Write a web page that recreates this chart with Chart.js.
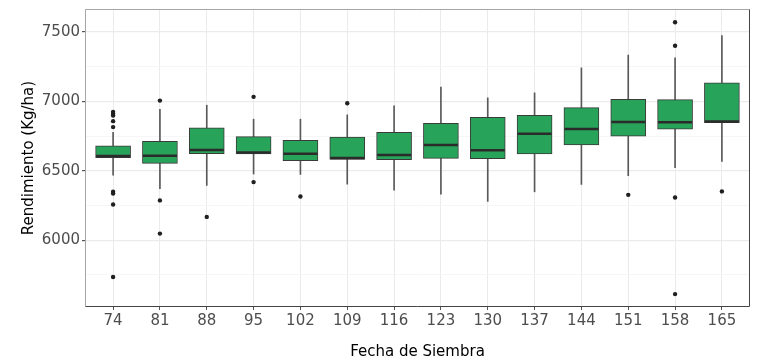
<!DOCTYPE html>
<html>
<head>
<meta charset="utf-8">
<script src="https://cdn.jsdelivr.net/npm/chart.js@4/dist/chart.umd.min.js"></script>
<style>
  html, body { margin: 0; padding: 0; background: #fff; }
  #wrap { width: 757px; height: 362px; }
</style>
</head>
<body>
<div id="wrap"><canvas id="grafico"></canvas></div>
<script>
// fechas de siembra (dias)
const fechas = [74, 81, 88, 95, 102, 109, 116, 123, 130, 137, 144, 151, 158, 165];

// cuartiles y bigotes (Kg/ha)
const bigoteInf = [6469, 6371, 6395, 6477, 6474, 6404, 6361, 6332, 6280, 6349, 6402, 6465, 6522, 6568];
const q1        = [6594, 6554, 6623, 6621, 6573, 6583, 6580, 6590, 6587, 6621, 6686, 6749, 6800, 6847];
const mediana   = [6607, 6609, 6650, 6633, 6623, 6592, 6614, 6686, 6648, 6768, 6802, 6852, 6850, 6855];
const q3        = [6681, 6713, 6809, 6746, 6720, 6744, 6778, 6843, 6886, 6900, 6956, 7016, 7013, 7134];
const bigoteSup = [6778, 6944, 6973, 6872, 6872, 6903, 6968, 7103, 7026, 7062, 7242, 7334, 7314, 7475];

// valores atipicos por fecha
const atipicos = [
  [6925, 6912, 6898, 6858, 6815, 6350, 6336, 6258, 5735],
  [7006, 6287, 6048],
  [6168],
  [7033, 6419],
  [6315],
  [6987],
  [],
  [],
  [],
  [],
  [],
  [6327],
  [7571, 7401, 6308, 5612],
  [6352]
];

const yTicks = [5750, 6000, 6250, 6500, 6750, 7000, 7250, 7500];

const puntosAtipicos = [];
atipicos.forEach((lista, i) => {
  lista.forEach(v => puntosAtipicos.push({ x: fechas[i], y: v }));
});

const sinPadding = axis => {
  axis.paddingTop = 0;
  axis.paddingBottom = 0;
  axis.paddingLeft = 0;
  axis.paddingRight = 0;
};

// borde del panel: arriba/izquierda mas claro, abajo/derecha oscuro
const marco = {
  id: "marco",
  afterDatasetsDraw(chart) {
    const { ctx, chartArea: a } = chart;
    const l = a.left + 0.5, t = a.top + 0.5, r = a.right - 0.5, b = a.bottom - 0.5;
    ctx.save();
    ctx.lineWidth = 1;
    ctx.strokeStyle = "#a6a6a6";
    ctx.beginPath();
    ctx.moveTo(l, b); ctx.lineTo(l, t); ctx.lineTo(r, t);
    ctx.stroke();
    ctx.strokeStyle = "#444444";
    ctx.beginPath();
    ctx.moveTo(r, t); ctx.lineTo(r, b); ctx.lineTo(l, b);
    ctx.stroke();
    ctx.restore();
  }
};

new Chart(document.getElementById("grafico"), {
  type: "bar",
  data: {
    datasets: [
      {
        label: "bigotes",
        data: fechas.map((f, i) => ({ x: f, y: [bigoteInf[i], bigoteSup[i]] })),
        backgroundColor: "#595959",
        barThickness: 1,
        grouped: false,
        order: 4
      },
      {
        label: "cajas",
        data: fechas.map((f, i) => ({ x: f, y: [q1[i], q3[i]] })),
        backgroundColor: "#28a35a",
        borderColor: "#3a3a3a",
        borderWidth: 1,
        borderSkipped: false,
        barThickness: 35,
        grouped: false,
        order: 3
      },
      {
        type: "scatter",
        label: "mediana",
        data: fechas.map((f, i) => ({ x: f, y: mediana[i] })),
        pointStyle: "line",
        pointRadius: 17,
        pointBorderWidth: 2.5,
        pointBorderColor: "#2b2b2b",
        order: 2
      },
      {
        type: "scatter",
        label: "atipicos",
        data: puntosAtipicos,
        pointRadius: 2.2,
        pointBorderWidth: 0,
        pointBackgroundColor: "#1f1f1f",
        order: 1
      }
    ]
  },
  options: {
    responsive: true,
    maintainAspectRatio: false,
    animation: false,
    events: [],
    layout: { autoPadding: false, padding: { top: 9, right: 7, bottom: 1, left: 16 } },
    plugins: { legend: { display: false }, tooltip: { enabled: false } },
    scales: {
      x: {
        type: "linear",
        offset: false,
        min: 69.8,
        max: 169.2,
        afterBuildTicks: axis => { axis.ticks = fechas.map(v => ({ value: v })); },
        afterFit: axis => { axis.height = 54; sinPadding(axis); },
        grid: { offset: false, color: "#ebebeb", lineWidth: 1, tickColor: "#555555", tickLength: 3 },
        border: { display: false },
        ticks: {
          color: "#4d4d4d",
          padding: 2,
          maxRotation: 0,
          autoSkip: false,
          font: { family: "DejaVu Sans", size: 15 }
        },
        title: {
          display: true,
          text: "Fecha de Siembra",
          color: "#000",
          padding: { top: 4, bottom: 0 },
          font: { family: "DejaVu Sans", size: 15 }
        }
      },
      y: {
        min: 5519,
        max: 7666,
        afterBuildTicks: axis => { axis.ticks = yTicks.map(v => ({ value: v })); },
        afterFit: axis => { axis.width = 69; sinPadding(axis); },
        grid: {
          color: c => (c.tick && c.tick.value % 500 === 0) ? "#ebebeb" : "#f4f4f4",
          lineWidth: c => (c.tick && c.tick.value % 500 === 0) ? 1.2 : 0.8,
          tickColor: c => (c.tick && c.tick.value % 500 === 0) ? "#555555" : "rgba(0,0,0,0)",
          tickLength: 3
        },
        border: { display: false },
        ticks: {
          color: "#4d4d4d",
          padding: 2,
          font: { family: "DejaVu Sans", size: 15 },
          callback: v => (v % 500 === 0 ? String(v) : "")
        },
        title: {
          display: true,
          text: "Rendimiento (Kg/ha)",
          color: "#000",
          padding: { top: 4, bottom: 4 },
          font: { family: "DejaVu Sans", size: 15 }
        }
      }
    }
  },
  plugins: [marco]
});
</script>
</body>
</html>
